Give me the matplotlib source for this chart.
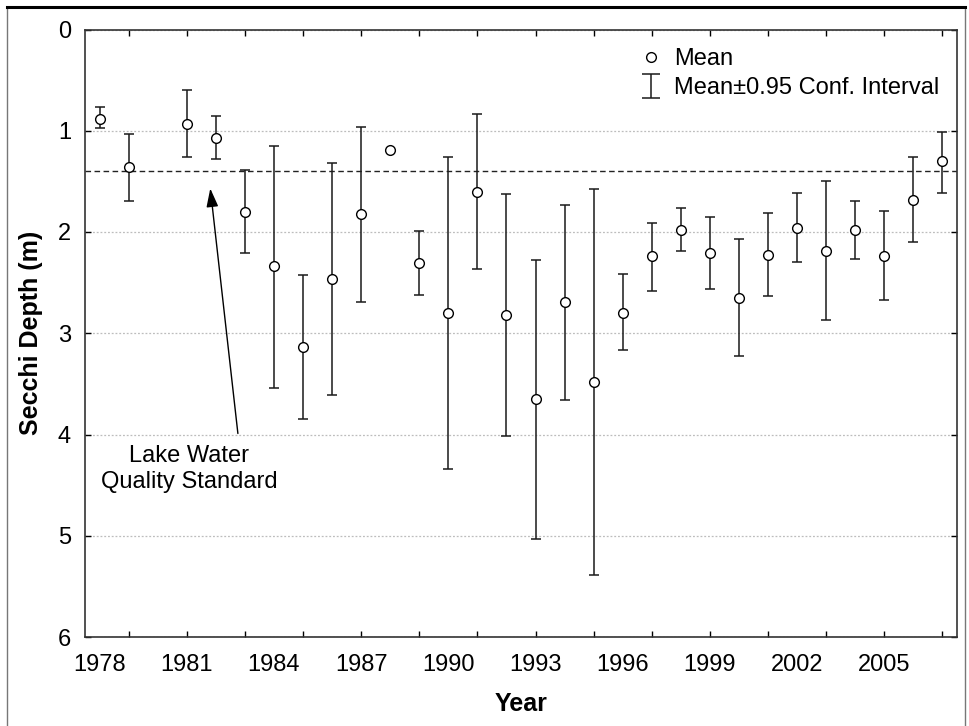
import matplotlib

matplotlib.use("Agg")

import matplotlib.pyplot as plt
import numpy as np
from matplotlib.legend_handler import HandlerErrorbar
from matplotlib.lines import Line2D

# annual Secchi depth: mean and 0.95 confidence bounds (m)
years = [1978, 1979, 1981, 1982, 1983, 1984, 1985, 1986, 1987, 1988,
         1989, 1990, 1991, 1992, 1993, 1994, 1995, 1996, 1997, 1998,
         1999, 2000, 2001, 2002, 2003, 2004, 2005, 2006, 2007]
mean_depth = [0.88, 1.36, 0.93, 1.07, 1.80, 2.34, 3.14, 2.46, 1.82, 1.19,
              2.31, 2.80, 1.60, 2.82, 3.65, 2.69, 3.48, 2.80, 2.24, 1.98,
              2.21, 2.65, 2.23, 1.96, 2.19, 1.98, 2.24, 1.68, 1.30]
ci_low = [0.77, 1.03, 0.60, 0.85, 1.39, 1.15, 2.42, 1.32, 0.96, np.nan,
          1.99, 1.26, 0.83, 1.62, 2.28, 1.73, 1.58, 2.41, 1.91, 1.76,
          1.85, 2.07, 1.81, 1.61, 1.50, 1.69, 1.79, 1.26, 1.01]
ci_high = [0.97, 1.69, 1.26, 1.28, 2.21, 3.54, 3.85, 3.61, 2.69, np.nan,
           2.62, 4.34, 2.37, 4.01, 5.03, 3.66, 5.39, 3.17, 2.58, 2.19,
           2.56, 3.22, 2.63, 2.30, 2.87, 2.27, 2.67, 2.10, 1.61]

standard_depth = 1.4
label_years = [1978, 1981, 1984, 1987, 1990, 1993, 1996, 1999, 2002, 2005]
tick_years = list(range(1979, 2008, 2))
depth_ticks = [0, 1, 2, 3, 4, 5, 6]

note_text = "Lake Water\nQuality Standard"
note_xy = (1981.08, 4.34)
arrow_tail = (1982.76, 3.99)
arrow_head = (1981.81, 1.57)


class WideCapHandler(HandlerErrorbar):
    # legend symbol of the interval: wider caps than on the plot
    def create_artists(self, *args, **kwargs):
        artists = super().create_artists(*args, **kwargs)
        for a in artists:
            if isinstance(a, Line2D) and a.get_marker() == "_":
                a.set_markersize(13)
        return artists


plt.rcParams["font.family"] = ["Liberation Sans", "DejaVu Sans"]

fig = plt.figure(figsize=(9.69, 7.26), dpi=100)
ax = fig.add_axes([85 / 969, 1 - 637 / 726, 872 / 969, 607.5 / 726])

x = np.asarray(years, dtype=float)
m = np.asarray(mean_depth, dtype=float)
lo = np.asarray(ci_low, dtype=float)
hi = np.asarray(ci_high, dtype=float)
ok = ~np.isnan(lo)

eb = ax.errorbar(x[ok], m[ok], yerr=[m[ok] - lo[ok], hi[ok] - m[ok]], fmt="none",
                 ecolor="#1a1a1a", elinewidth=1.1, capsize=3.5, capthick=1.1,
                 zorder=2, label="Mean\u00b10.95 Conf. Interval")
pts, = ax.plot(x, m, ls="none", marker="o", ms=7, mfc="white", mec="black",
               mew=1.0, zorder=3, label="Mean")

ax.axhline(standard_depth, color="#222222", lw=1.0, dashes=(4, 2.5), zorder=1)

ax.annotate("", xy=arrow_head, xytext=arrow_tail,
            arrowprops=dict(arrowstyle="-|>,head_length=0.75,head_width=0.24",
                            color="black", lw=1.0, mutation_scale=15,
                            shrinkA=0, shrinkB=0))
ax.text(note_xy[0], note_xy[1], note_text, ha="center", va="center",
        fontsize=17, linespacing=1.2)

ax.set_xlim(1977.5, 2007.5)
ax.set_ylim(6, 0)
ax.set_yticks(depth_ticks)
ax.set_xticks(label_years, [str(y) for y in label_years])
ax.set_xticks(tick_years, minor=True)
ax.xaxis.remove_overlapping_locs = False
ax.tick_params(axis="x", which="major", length=0, pad=12, labelsize=17)
ax.tick_params(axis="x", which="minor", direction="in", length=4, width=1,
               top=True, bottom=True)
ax.tick_params(axis="y", direction="in", length=4, width=1, left=True,
               right=True, labelsize=17, pad=10)
ax.yaxis.grid(True, color="#bdbdbd", ls=(0, (1.5, 1.5)), lw=0.9)
ax.set_axisbelow(True)
for s in ax.spines.values():
    s.set_color("#333333")
    s.set_linewidth(1.2)

ax.set_xlabel("Year", fontsize=18, fontweight="bold", labelpad=12)
ax.set_ylabel("Secchi Depth (m)", fontsize=18, fontweight="bold", labelpad=11)

ax.legend(handles=[pts, eb], loc="upper left", bbox_to_anchor=(0.625, 0.985),
          frameon=False, fontsize=17, numpoints=1, handlelength=1.0,
          handletextpad=0.45, labelspacing=0.3, borderaxespad=0,
          handler_map={type(eb): WideCapHandler(xerr_size=0.45, yerr_size=0.5)})

# outer frame of the original page
fl, fr, ft = 7 / 969, 965 / 969, 1 - 7 / 726
fig.add_artist(Line2D([fl, fl], [-0.01, ft], transform=fig.transFigure,
                      color="#777777", lw=1.0))
fig.add_artist(Line2D([fr, fr], [-0.01, ft], transform=fig.transFigure,
                      color="#777777", lw=1.0))
fig.add_artist(Line2D([fl, fr], [ft, ft], transform=fig.transFigure,
                      color="black", lw=2.2))

fig.savefig("out.png", dpi=100)
